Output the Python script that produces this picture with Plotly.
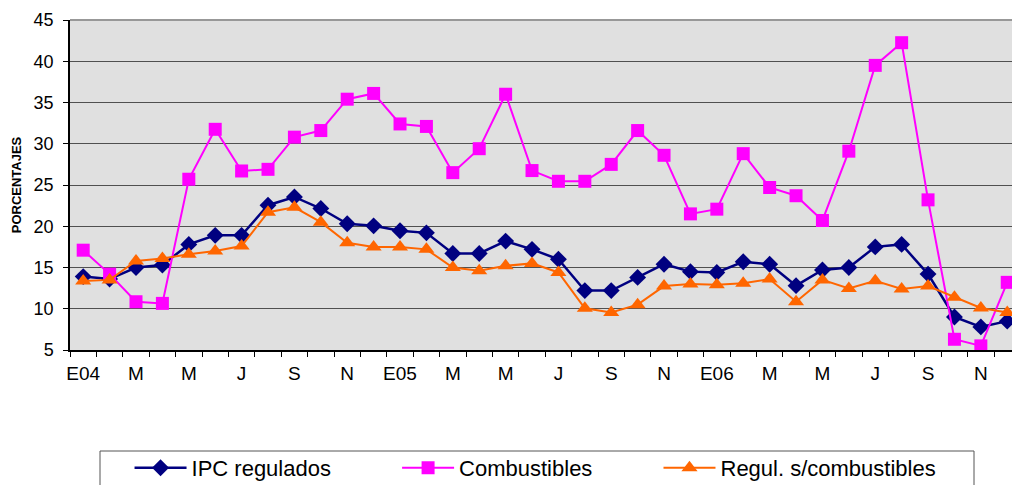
import plotly.graph_objects as go

# Monthly series, January 2004 to December 2006 (percent)
ipc_regulados = [13.9, 13.6, 15.0, 15.3, 17.8, 18.9, 18.9, 22.55, 23.55, 22.15, 20.3, 20.05,
                 19.45, 19.2, 16.7, 16.7, 18.2, 17.2, 16.0, 12.2, 12.2, 13.8, 15.4, 14.5,
                 14.4, 15.7, 15.4, 12.8, 14.7, 15.0, 17.5, 17.8, 14.2, 9.0, 7.8, 8.5]
combustibles = [17.1, 14.2, 10.85, 10.65, 25.7, 31.75, 26.7, 26.9, 30.8, 31.6, 35.4, 36.1,
                32.4, 32.1, 26.5, 29.4, 36.0, 26.75, 25.45, 25.45, 27.5, 31.6, 28.6, 21.5,
                22.07, 28.8, 24.7, 23.7, 20.7, 29.1, 39.5, 42.25, 23.2, 6.3, 5.5, 13.2]
regul_sin_comb = [13.35, 13.5, 15.8, 16.1, 16.6, 17.0, 17.6, 21.7, 22.3, 20.5, 18.0, 17.5,
                  17.5, 17.2, 15.0, 14.6, 15.2, 15.5, 14.4, 10.05, 9.55, 10.5, 12.75, 13.0,
                  12.9, 13.1, 13.6, 10.85, 13.5, 12.45, 13.4, 12.4, 12.75, 11.4, 10.1, 9.55]

# Bimonthly tick labels
tick_labels = ["E04", "M", "M", "J", "S", "N", "E05", "M", "M", "J", "S", "N",
               "E06", "M", "M", "J", "S", "N"]

series_names = ["IPC regulados", "Combustibles", "Regul. s/combustibles"]

months = list(range(len(ipc_regulados)))
tick_positions = months[::2]

FONT = "Arial, 'Liberation Sans', sans-serif"
NBSP = "\u00a0"


def legend_label(text, pad):
    # trailing non-breaking spaces widen a legend entry
    return text + NBSP * pad


fig = go.Figure()
fig.add_trace(go.Scatter(
    x=months, y=ipc_regulados, name=legend_label(series_names[0], 10), mode="lines+markers",
    line=dict(color="#000080", width=2.5),
    marker=dict(symbol="diamond", size=13, color="#000080"),
))
fig.add_trace(go.Scatter(
    x=months, y=combustibles, name=legend_label(series_names[1], 10), mode="lines+markers",
    line=dict(color="#FF00FF", width=2),
    marker=dict(symbol="square", size=13, color="#FF00FF"),
))
fig.add_trace(go.Scatter(
    x=months, y=regul_sin_comb, name=series_names[2], mode="lines+markers",
    line=dict(color="#FF6600", width=2),
    marker=dict(symbol="triangle-up", size=14, color="#FF6600"),
))

fig.update_layout(
    width=1012, height=485,
    margin=dict(l=70, r=0, t=20, b=135),
    paper_bgcolor="white",
    plot_bgcolor="#E0E0E0",
    font=dict(family=FONT, color="black"),
    xaxis=dict(
        range=[-0.5, 35.18],
        tickmode="array", tickvals=tick_positions, ticktext=tick_labels,
        ticks="outside", ticklen=5, tickcolor="rgba(0,0,0,0)",
        tickfont=dict(size=19),
        minor=dict(tickmode="array", tickvals=[m - 0.5 for m in months] + [35.5],
                   ticks="outside", ticklen=5, tickcolor="black", tickwidth=1),
        showgrid=False, zeroline=False,
        showline=True, linecolor="black", linewidth=1.5,
    ),
    yaxis=dict(
        range=[5, 45], dtick=5, tick0=5,
        ticks="outside", ticklen=5, tickcolor="black",
        tickfont=dict(size=18), ticklabelstandoff=6,
        showgrid=True, gridcolor="#505050", gridwidth=1.2,
        zeroline=False,
        showline=True, linecolor="black", linewidth=1.5,
        title=dict(text="<b>PORCENTAJES</b>", font=dict(size=13), standoff=9),
    ),
    showlegend=True,
    legend=dict(
        orientation="h",
        xref="container", yref="container",
        x=0.128, y=0.035, xanchor="left", yanchor="middle",
        font=dict(size=22),
        itemwidth=52,
        bgcolor="rgba(0,0,0,0)", borderwidth=0,
    ),
    shapes=[
        # top edge of the plotting area
        dict(type="line", xref="paper", yref="paper", x0=0, x1=1, y0=1, y1=1,
             line=dict(color="#989898", width=2)),
        # legend frame
        dict(type="rect", xref="paper", yref="paper",
             x0=(100 - 70) / 942, x1=(974 - 70) / 942,
             y0=-(500 - 350) / 330, y1=-(451 - 350) / 330,
             line=dict(color="#555555", width=1)),
    ],
)

fig.write_html("out.html")
